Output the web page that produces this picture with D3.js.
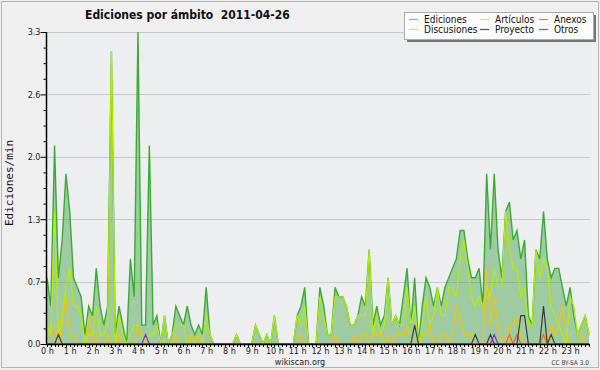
<!DOCTYPE html>
<html>
<head>
<meta charset="utf-8">
<script src="https://cdn.jsdelivr.net/npm/d3@7"></script>
<style>
  body { margin: 0; background: #efefef; }
  svg { display: block; font-family: "DejaVu Sans Condensed", "DejaVu Sans", sans-serif; font-stretch: condensed; }
</style>
</head>
<body>
<svg id="chart" width="600" height="370"></svg>
<script>
// 10-minute bins, 144 per day, values in edits/min
const hourLabels = d3.range(24).map(h => h + " h");
const yTicks = [0, 0.66, 1.32, 1.98, 2.64, 3.3];

const ediciones = [
  0.7,0.4,2.1,0.7,1.1,1.8,1.4,0.7,0.6,0.5,
  0.1,0.4,0.3,0.8,0.4,0.2,0.4,3.1,0.1,0.4,
  0.2,0.0,0.9,0.5,3.3,0.2,0.2,2.1,0.2,0.3,
  0.0,0.3,0.0,0.1,0.4,0.3,0.2,0.4,0.2,0.1,
  0.2,0.1,0.6,0.1,0,0,0,0,0,0,
  0.1,0,0,0,0,0.2,0.1,0,0.1,0,
  0.3,0,0,0,0,0,0.3,0.4,0.6,0,
  0,0,0.6,0.4,0.1,0.1,0.6,0.5,0.5,0.4,
  0.2,0.2,0.3,0.5,0.4,1.0,0.2,0.4,0.2,0.3,
  0.7,0.2,0.3,0.2,0.5,0.8,0.2,0.7,0,0.4,
  0.7,0.6,0.4,0.6,0.4,0.6,0.7,0.8,0.9,1.2,
  1.2,0.9,0.7,0.7,0.8,0.4,1.8,1.0,1.8,1.0,
  0.7,1.4,1.5,1.1,1.2,0.9,1.1,0.3,0.2,1.0,
  0.9,1.4,0.9,0.7,0.8,0.8,0.6,0.4,0.6,0.3,
  0.1,0.2,0.3,0.1
];
const articulos = [
  0.2,0.1,1.4,0.1,0.3,0.6,0.8,0.4,0.4,0.3,
  0,0.1,0.1,0.4,0.1,0.1,0.2,3.1,0,0.3,
  0.1,0,0.1,0.2,0.2,0.1,0,0.1,0.1,0.2,
  0,0.3,0,0.1,0.2,0.2,0.2,0,0.1,0,
  0.1,0,0.3,0.1,0,0,0,0,0,0,
  0.1,0,0,0,0,0.2,0.1,0,0.1,0,
  0.3,0,0,0,0,0,0.3,0.2,0.4,0,
  0,0,0.5,0.3,0.1,0.1,0.5,0.5,0.5,0.4,
  0.2,0.2,0.3,0.3,0.3,1.0,0.1,0.3,0.1,0.2,
  0.7,0.2,0.3,0.2,0.2,0.6,0.2,0.4,0,0.2,
  0.5,0.2,0.3,0.6,0.3,0.3,0.6,0.6,0.5,0.9,
  1.1,0.8,0.5,0.4,0.5,0.4,0.6,0.5,0.8,0.6,
  0.6,1.4,1.0,0.8,0.8,0.5,0.6,0.2,0.2,1.0,
  0.7,0.9,0.8,0.4,0.3,0.2,0.1,0,0.5,0.4,
  0.1,0.2,0.3,0.1
];
const discusiones = [
  0.1,0.1,0.2,0,0.2,0.5,0.1,0.1,0,0,
  0,0.3,0,0.1,0,0,0.1,0,0,0.1,
  0,0,0,0,0.2,0.1,0,0,0,0,
  0,0,0,0,0.1,0,0,0,0.1,0,
  0.1,0,0,0,0,0,0,0,0,0,
  0,0,0,0,0,0,0,0,0,0,
  0,0,0,0,0,0,0,0.1,0,0,
  0,0,0,0,0,0,0.1,0,0,0,
  0,0.1,0,0.1,0.1,0,0.1,0.1,0.1,0,
  0.1,0,0.1,0.1,0.1,0.2,0,0,0,0.1,
  0.1,0.2,0,0,0.1,0.1,0,0.1,0.4,0.3,
  0.1,0.1,0.1,0,0,0,0.8,0.2,0.5,0.2,
  0,0,0.2,0.2,0.3,0.1,0,0,0,0,
  0,0,0,0.2,0.1,0.2,0.4,0.1,0,0,
  0,0.1,0,0
];
const anexos = [
  0,0,0,0,0,0,0,0,0,0, 0,0,0,0,0,0,0,0,0,0,
  0,0,0,0,0,0,0,0,0,0, 0,0,0,0,0,0,0,0,0,0,
  0,0,0,0,0,0,0,0,0,0, 0,0,0,0,0,0,0,0,0,0,
  0,0,0,0,0,0,0,0,0,0, 0,0,0,0,0,0,0,0,0,0,
  0,0,0,0,0,0,0,0,0,0, 0,0,0,0,0,0,0,0,0,0,
  0,0,0,0,0,0,0,0,0,0, 0,0,0,0,0,0,0,0,0,0,
  0,0,0.1,0,0.1,0,0,0,0,0, 0,0.1,0,0,0,0,0,0,0,0,
  0,0,0,0
];
const proyecto = [
  0,0,0,0.1,0,0,0,0,0,0, 0,0,0,0,0,0,0,0,0,0,
  0,0,0,0,0,0,0,0,0,0, 0,0,0,0,0,0,0,0,0,0,
  0,0,0,0,0,0,0,0,0,0, 0,0,0,0,0,0,0,0,0,0,
  0,0,0,0,0,0,0,0,0,0, 0,0,0,0,0,0,0,0,0,0,
  0,0,0,0,0,0,0,0,0,0, 0,0,0,0,0,0,0,0.2,0,0,
  0,0,0,0,0,0,0,0,0,0, 0,0,0,0.1,0,0,0,0.1,0,0,
  0,0,0,0,0,0.3,0.3,0,0,0, 0,0.4,0,0.1,0,0,0,0,0,0,
  0,0,0,0
];
const otros = [
  0,0,0,0,0,0,0,0,0,0, 0,0,0,0,0,0,0,0,0,0,
  0,0,0,0,0,0,0.1,0,0,0, 0,0,0,0,0,0,0,0,0,0,
  0,0,0,0,0,0,0,0,0,0, 0,0,0,0,0,0,0,0,0,0,
  0,0,0,0,0,0,0,0,0,0, 0,0,0,0,0,0,0,0,0,0,
  0,0,0,0,0,0,0,0,0,0, 0,0,0,0,0,0,0,0,0,0,
  0,0,0,0,0,0,0,0,0,0, 0,0,0,0,0,0,0,0,0.1,0,
  0,0,0,0,0,0,0,0,0,0, 0,0,0,0,0,0,0,0,0,0,
  0,0,0,0
];

const lineSeries = [
  { name: "Artículos", values: articulos, color: "#b8ec00" },
  { name: "Discusiones", values: discusiones, color: "#f7c400" },
  { name: "Anexos", values: anexos, color: "#f2622a" },
  { name: "Proyecto", values: proyecto, color: "#3c3c3c" },
  { name: "Otros", values: otros, color: "#7a2cf0" }
];

const legendItems = [
  { name: "Ediciones", color: "#77cc77" },
  { name: "Discusiones", color: "#ffd040" },
  { name: "Artículos", color: "#ccee55" },
  { name: "Proyecto", color: "#555" },
  { name: "Anexos", color: "#ff7744" },
  { name: "Otros", color: "#8844ee" }
];

const svg = d3.select("#chart");

// outer frame
svg.append("rect")
  .attr("x", 1.5).attr("y", 1.5)
  .attr("width", 597).attr("height", 366)
  .attr("fill", "#efefef")
  .attr("stroke", "#b4b4b4");

const x = d3.scaleLinear().domain([0, 143]).range([47, 589]);
const y = d3.scaleLinear().domain([0, 3.3]).range([344, 32]);

// plot background
svg.append("rect")
  .attr("x", 46).attr("y", 32)
  .attr("width", 544).attr("height", 312)
  .attr("fill", "#eceef0");

// grid
svg.append("g")
  .selectAll("line")
  .data(yTicks.slice(1))
  .join("line")
  .attr("x1", 46).attr("x2", 590)
  .attr("y1", d => Math.round(y(d)) + 0.5)
  .attr("y2", d => Math.round(y(d)) + 0.5)
  .attr("stroke", "#c9c9c9");

// ediciones area + line
const area = d3.area()
  .x((d, i) => x(i))
  .y0(y(0))
  .y1(d => y(d));

svg.append("path")
  .datum(ediciones)
  .attr("d", area)
  .attr("fill", "#3ca03c")
  .attr("fill-opacity", 0.44);

const line = d3.line()
  .x((d, i) => x(i))
  .y(d => y(d));

svg.append("path")
  .datum(ediciones)
  .attr("d", line)
  .attr("fill", "none")
  .attr("stroke", "#3aac34")
  .attr("stroke-width", 1.4);

lineSeries.forEach(s => {
  svg.append("path")
    .datum(s.values)
    .attr("d", line)
    .attr("fill", "none")
    .attr("stroke", s.color)
    .attr("stroke-width", 1.2);
});

// x axis: tick every 10 min, label every hour
const xAxis = d3.axisBottom(x)
  .tickValues(d3.range(0, 144))
  .tickSize(3)
  .tickSizeOuter(0)
  .tickFormat(d => d % 6 === 0 ? hourLabels[d / 6] : "");

const gx = svg.append("g")
  .attr("transform", "translate(0,344)")
  .call(xAxis);
gx.select(".domain").remove();
gx.selectAll(".tick line").attr("stroke", "#000").attr("shape-rendering", "crispEdges");
gx.selectAll(".tick text")
  .attr("y", 4)
  .attr("fill", "#222")
  .style("font-size", "9px")
  .style("font-family", "\"DejaVu Sans Condensed\", \"DejaVu Sans\", sans-serif");

// y axis major + minor ticks
const yAxis = d3.axisLeft(y)
  .tickValues(yTicks)
  .tickSize(6)
  .tickSizeOuter(0)
  .tickFormat(d3.format(".1f"));

const gy = svg.append("g")
  .attr("transform", "translate(46.5,0)")
  .call(yAxis);
gy.select(".domain").remove();
gy.selectAll(".tick line").attr("stroke", "#000");
gy.selectAll(".tick text")
  .attr("x", -6)
  .attr("fill", "#222")
  .style("font-size", "9px")
  .style("font-family", "\"DejaVu Sans Condensed\", \"DejaVu Sans\", sans-serif");

const minor = d3.range(0, 21).map(i => i * 0.165).filter((d, i) => i % 4 !== 0);
const gyMinor = svg.append("g")
  .attr("transform", "translate(46.5,0)")
  .call(d3.axisLeft(y).tickValues(minor).tickSize(3).tickSizeOuter(0).tickFormat(""));
gyMinor.select(".domain").remove();
gyMinor.selectAll(".tick line").attr("stroke", "#000");

// axis lines
svg.append("line")
  .attr("x1", 46.5).attr("x2", 46.5).attr("y1", 32).attr("y2", 344.5)
  .attr("stroke", "#000").attr("stroke-width", 1.5);
svg.append("line")
  .attr("x1", 46).attr("x2", 590).attr("y1", 344.5).attr("y2", 344.5)
  .attr("stroke", "#000").attr("stroke-width", 1.5);

// y axis title
svg.append("text")
  .attr("transform", "translate(13,183) rotate(-90)")
  .attr("text-anchor", "middle")
  .style("font-family", "\"DejaVu Sans Mono\", monospace")
  .style("font-stretch", "normal")
  .style("font-size", "11px")
  .attr("fill", "#111")
  .text("Ediciones/min");

// title
svg.append("text")
  .attr("x", 85).attr("y", 19)
  .attr("xml:space", "preserve")
  .style("white-space", "pre")
  .style("font-size", "12px")
  .style("font-weight", "bold")
  .attr("fill", "#111")
  .text("Ediciones por ámbito  2011-04-26");

// legend
const lg = svg.append("g").attr("transform", "translate(404,12)");
lg.append("rect")
  .attr("x", 3).attr("y", 3).attr("width", 189).attr("height", 27)
  .attr("fill", "#777");
lg.append("rect")
  .attr("x", 0.5).attr("y", 0.5).attr("width", 189).attr("height", 27)
  .attr("fill", "#fcfcfc").attr("stroke", "#aaa");

const colX = [5, 76, 135];
const rowY = [7.5, 17.5];
const leg = lg.selectAll("g.item")
  .data(legendItems)
  .join("g")
  .attr("class", "item")
  .attr("transform", (d, i) => `translate(${colX[Math.floor(i / 2)]},${rowY[i % 2]})`);
leg.append("line")
  .attr("x1", 0).attr("x2", 9).attr("y1", 0).attr("y2", 0)
  .attr("stroke", d => d.color).attr("stroke-width", 1.2);
leg.append("text")
  .attr("x", 15).attr("y", 0).attr("dy", "0.35em")
  .style("font-size", "10px")
  .attr("fill", "#111")
  .text(d => d.name);

// footer
svg.append("text")
  .attr("x", 300).attr("y", 365)
  .attr("text-anchor", "middle")
  .style("font-size", "9px")
  .attr("fill", "#222")
  .text("wikiscan.org");
svg.append("text")
  .attr("x", 589).attr("y", 365)
  .attr("text-anchor", "end")
  .style("font-size", "6.5px")
  .attr("fill", "#444")
  .text("CC BY-SA 3.0");
</script>
</body>
</html>
